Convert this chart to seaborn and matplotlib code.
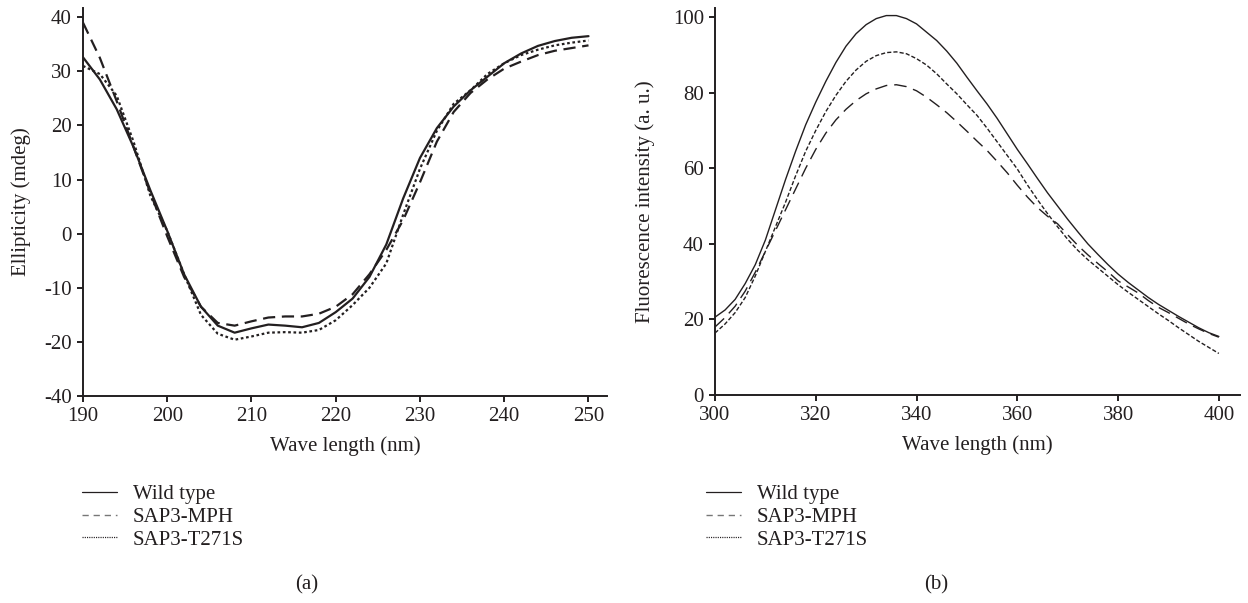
import numpy as np
import pandas as pd
import matplotlib
matplotlib.use('Agg')
import matplotlib.pyplot as plt
import seaborn as sns
from matplotlib.lines import Line2D

# CD spectra (a), every 2 nm
wl_a = list(range(190, 251, 2))
wild_a = [32.6, 28.5, 23, 16, 8, 0.5, -7.5, -13.5, -17, -18.3, -17.5, -16.8, -17, -17.3, -16.5, -14.5,
          -12, -8, -2, 6.5, 14, 19.5, 23.5, 26.5, 29, 31.5, 33.3, 34.7, 35.6, 36.2, 36.5]
mph_a = [39, 32.5, 24.5, 16, 7.5, -0.5, -8, -13.5, -16.5, -17, -16.2, -15.5, -15.3, -15.3, -14.8, -13.5,
         -11.2, -7.5, -3, 2.5, 9.5, 17, 22.5, 26, 28.5, 30.5, 31.8, 33, 33.8, 34.3, 34.8]
t271s_a = [31, 29.5, 25.5, 17, 7, 0.5, -7.5, -15, -18.5, -19.6, -19, -18.3, -18.2, -18.3, -17.8, -16,
           -13.2, -10, -5.5, 3.5, 12, 19, 24, 26.5, 29.5, 31.5, 33, 34, 34.8, 35.3, 35.7]

# fluorescence spectra (b), every 2 nm
wl_b = list(range(300, 401, 2))
wild_b = [20.6, 22.5, 25.3, 29.5, 34.5, 41, 49, 57, 64.5, 71.5, 77.5, 83, 88, 92.3, 95.6, 98,
          99.6, 100.4, 100.4, 99.6, 98.2, 96, 93.8, 91, 87.8, 84.1, 80.5, 77, 73.2, 69.1, 65, 61.2,
          57.3, 53.5, 50, 46.5, 43.2, 40, 37.2, 34.5, 32, 29.8, 27.8, 25.8, 24, 22.4, 20.8, 19.3,
          17.8, 16.5, 15.5]
mph_b = [18, 20.5, 23.5, 27.5, 32.5, 38, 43.5, 49, 54.5, 60, 65, 69.3, 72.8, 75.6, 77.9, 79.7,
         81, 81.9, 82.1, 81.6, 80.5, 78.8, 76.8, 74.7, 72.3, 69.8, 67.2, 64.7, 61.8, 58.8, 55.5, 52.4,
         49.6, 47.3, 45.3, 42.4, 39.6, 37.1, 34.8, 32.6, 30.2, 28.6, 27, 25, 23.2, 21.8, 20.3, 18.8,
         17.5, 16.3, 15.3]
t271s_b = [16.4, 18.8, 21.8, 25.8, 31.5, 38, 44.5, 51, 58, 64.5, 70, 75, 79.3, 83, 86, 88.3,
           89.8, 90.6, 90.8, 90.3, 89, 87.3, 85, 82.3, 79.7, 76.8, 74, 70.6, 67, 63.4, 59.8, 55.6,
           51.7, 48, 44.5, 41.2, 38.3, 35.8, 33.6, 31.4, 29.2, 27.2, 25.3, 23.4, 21.5, 19.7, 17.8, 16,
           14.2, 12.6, 11]

names = ['Wild type', 'SAP3-MPH', 'SAP3-T271S']
yticks_a = [-30, -20, -10, 0, 10, 20, 30, 40]
yticklabels_a = ['-40', '-20', '-10', '0', '10', '20', '30', '40']

sns.set_style('ticks')
plt.rcParams['font.family'] = ['Liberation Serif', 'DejaVu Serif']
plt.rcParams['font.size'] = 15
plt.rcParams['axes.linewidth'] = 1.4
plt.rcParams['xtick.major.width'] = 1.4
plt.rcParams['ytick.major.width'] = 1.4
plt.rcParams['xtick.major.size'] = 4
plt.rcParams['ytick.major.size'] = 4
ink = '#231f20'
plt.rcParams['axes.edgecolor'] = ink
plt.rcParams['xtick.color'] = ink
plt.rcParams['ytick.color'] = ink
plt.rcParams['text.color'] = ink
plt.rcParams['axes.labelcolor'] = ink

fig = plt.figure(figsize=(12.48, 6.03), dpi=100)
ax1 = fig.add_axes([0.0665, 0.3433, 0.4199, 0.6434])
ax2 = fig.add_axes([0.5729, 0.3449, 0.4207, 0.6418])

styles_a = [dict(linestyle='-', linewidth=1.6),
            dict(linestyle=(0, (5.5, 3)), linewidth=1.6),
            dict(linestyle=(0, (1.2, 1.2)), linewidth=1.6)]
for vals, st in zip([wild_a, mph_a, t271s_a], styles_a):
    sns.lineplot(x=wl_a, y=vals, ax=ax1, color=ink, **st)

styles_b = [dict(linestyle='-', linewidth=1.0),
            dict(linestyle=(0, (9, 5)), linewidth=1.0),
            dict(linestyle=(0, (3, 1.5)), linewidth=1.0)]
for vals, st in zip([wild_b, mph_b, t271s_b], styles_b):
    sns.lineplot(x=wl_b, y=vals, ax=ax2, color=ink, **st)

ax1.set_xlim(190, 252.2)
ax1.set_ylim(-30, 41.7)
ax1.set_xticks(range(190, 251, 10))
ax1.set_yticks(yticks_a)
ax1.set_yticklabels(yticklabels_a)
ax1.set_ylabel('Ellipticity (mdeg)')
ax1.yaxis.set_label_coords(-0.099, 0.5)

ax2.set_xlim(300, 404.2)
ax2.set_ylim(0, 102.4)
ax2.set_xticks(range(300, 401, 20))
ax2.set_yticks(range(0, 101, 20))
ax2.set_ylabel('Fluorescence intensity (a. u.)')
ax2.yaxis.set_label_coords(-0.114, 0.5)

leg_styles = [dict(linestyle='-', linewidth=0.9, color=ink),
              dict(linestyle=(0, (4.5, 3.5)), linewidth=1.0, color='#777777'),
              dict(linestyle=(0, (0.9, 0.9)), linewidth=0.9, color=ink)]
for ax, x0, lab in [(ax1, 0.0657, '(a)'), (ax2, 0.5657, '(b)')]:
    sns.despine(ax=ax)
    ax.set_xlabel('Wave length (nm)', labelpad=7)
    ax.tick_params(pad=4)
    handles = [Line2D([], [], **s) for s in leg_styles]
    ax.legend(handles, names, loc='center left', bbox_to_anchor=(x0, 0.1426),
              bbox_transform=fig.transFigure, frameon=False, handlelength=1.7,
              handletextpad=0.75, labelspacing=0.15, borderpad=0, borderaxespad=0)

fig.text(307 / 1248, 1 - 585 / 603, '(a)', ha='center', va='center')
fig.text(936 / 1248, 1 - 585 / 603, '(b)', ha='center', va='center')

fig.savefig('out.png', dpi=100)
